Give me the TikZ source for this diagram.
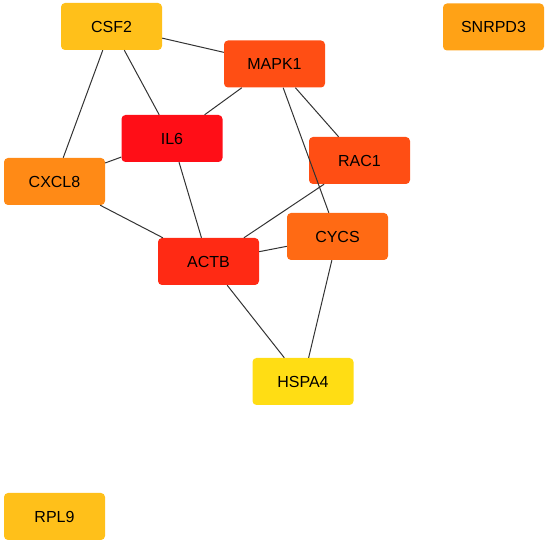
\documentclass[tikz,border=0pt]{standalone}
\usepackage{fontspec}
\setmainfont{Liberation Sans}
\begin{document}
\begin{tikzpicture}[x=1pt,y=-1pt,
  gene/.style={rectangle, rounded corners=4pt, minimum width=101pt, minimum height=47pt, inner sep=0pt, font=\fontsize{16}{19}\selectfont, text=black},
  link/.style={draw=black!80, line width=1pt}]
\useasboundingbox (0,0) rectangle (550,545);
\definecolor{cCSF}{HTML}{FFC01A}
\definecolor{cSNR}{HTML}{FFA216}
\definecolor{cMAP}{HTML}{FF4E14}
\definecolor{cIL}{HTML}{FF0E17}
\definecolor{cRAC}{HTML}{FF4E14}
\definecolor{cCXC}{HTML}{FF8A16}
\definecolor{cCYC}{HTML}{FF6A14}
\definecolor{cACT}{HTML}{FF2A14}
\definecolor{cHSP}{HTML}{FFDD14}
\definecolor{cRPL}{HTML}{FFC01A}
\node[gene, fill=cCSF] (csf2) at (111.5,26.5) {CSF2};
\node[gene, fill=cSNR] (snrpd3) at (493.5,27) {SNRPD3};
\node[gene, fill=cMAP] (mapk1) at (274.5,64) {MAPK1};
\node[gene, fill=cIL] (il6) at (172,138.5) {IL6};
\node[gene, fill=cRAC] (rac1) at (359.5,160.5) {RAC1};
\node[gene, fill=cCXC] (cxcl8) at (54.5,181.5) {CXCL8};
\node[gene, fill=cCYC] (cycs) at (337.5,236.5) {CYCS};
\node[gene, fill=cACT] (actb) at (208.5,261.5) {ACTB};
\node[gene, fill=cHSP] (hspa4) at (303,381.5) {HSPA4};
\node[gene, fill=cRPL] (rpl9) at (54.5,516.5) {RPL9};
\draw[link] (csf2) -- (mapk1);
\draw[link] (csf2) -- (il6);
\draw[link] (csf2) -- (cxcl8);
\draw[link] (mapk1) -- (il6);
\draw[link] (mapk1) -- (rac1);
\draw[link] (mapk1) -- (cycs);
\draw[link] (il6) -- (cxcl8);
\draw[link] (il6) -- (actb);
\draw[link] (cxcl8) -- (actb);
\draw[link] (rac1) -- (actb);
\draw[link] (actb) -- (cycs);
\draw[link] (actb) -- (hspa4);
\draw[link] (cycs) -- (hspa4);
\end{tikzpicture}
\end{document}
